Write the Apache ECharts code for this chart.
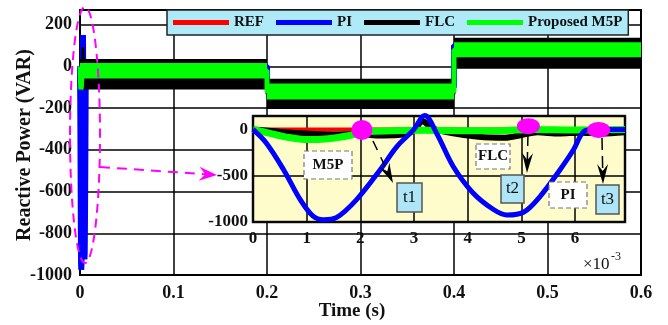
<!DOCTYPE html>
<html><head><meta charset="utf-8">
<script src="https://cdn.jsdelivr.net/npm/echarts@6/dist/echarts.min.js"></script>
<style>html,body{margin:0;padding:0;background:#fff}#c{width:668px;height:325px}</style>
</head><body><div id="c"></div>
<script>
// ---------- data ----------
const seriesNames = ['REF', 'PI', 'FLC', 'Proposed M5P'];
// main plot: step times (s) and levels (VAR)
const stepTimes = [0, 0.2, 0.4, 0.6];
const refLevels = [0, -100, 100];
// oscillation envelopes of the steady-state bands per segment
const flcLow  = [-111, -205, -11];
const flcHigh = [35, -59, 137];
const m5pLow  = [-58, -159, 44];
const m5pHigh = [16, -82, 116];
// inset: first ms of the transient (x in ms, y in VAR)
const refInset = [[0, 0], [6.93, 0]];
const piInset = [[0,0],[0.25,-149],[0.57,-435],[0.88,-758],[1.12,-937],[1.31,-975],[1.56,-950],[1.93,-758],[2.37,-435],[2.68,-185],[2.99,-5],[3.2,150],[3.42,-41],[3.73,-400],[4.1,-686],[4.48,-865],[4.73,-925],[5.04,-895],[5.35,-722],[5.72,-435],[5.97,-220],[6.16,-23],[6.34,0],[6.93,0]];
const flcInset = [[0,0],[0.5,-25],[1.0,-45],[1.5,-55],[2.0,-50],[2.3,-65],[2.7,-60],[3.0,-10],[3.15,90],[3.35,10],[3.7,-40],[4.2,-80],[4.7,-90],[5.0,-60],[5.3,-30],[5.7,-45],[6.1,-35],[6.5,-45],[6.93,-30]];
const m5pInset = [[0,0],[0.3,-40],[0.6,-80],[1.0,-110],[1.4,-100],[1.8,-65],[2.1,-25],[2.6,-15],[3.2,-10],[4.0,-15],[4.6,-15],[5.2,0],[6.0,-5],[6.93,0]];
const highlightPoints = [[2.03, -5], [5.13, 35], [6.44, -5]];

// ---------- build ----------
const FONT = '"Liberation Serif", "Times New Roman", serif';
const C = {REF:'#ff0000', PI:'#0000ff', FLC:'#000000', M5P:'#00ff00'};
function steps(levels){ const o=[]; for(let i=0;i<levels.length;i++){ o.push([stepTimes[i],levels[i]],[stepTimes[i+1],levels[i]]); } return o; }
function bands(lo,hi){ return lo.map((v,i)=>[{coord:[stepTimes[i],v]},{coord:[stepTimes[i+1],hi[i]]}]); }
const toSec = a => a.map(p=>[p[0]/1000,p[1]]);
const mid = (lo,hi)=>lo.map((v,i)=>(v+hi[i])/2);
const refMain = steps(refLevels);
const piMain  = toSec(piInset).concat(steps(refLevels).slice(1));
const flcMain = toSec(flcInset).concat(steps(mid(flcLow,flcHigh)).slice(1));
const m5pMain = toSec(m5pInset).concat(steps(mid(m5pLow,m5pHigh)).slice(1));

function arrow(x1,y1,x2,y2,color,len,wid,dash,lw){
  const a=Math.atan2(y2-y1,x2-x1), ux=Math.cos(a), uy=Math.sin(a), px=-uy, py=ux;
  const bx=x2-ux*len, by=y2-uy*len, nx=x2-ux*len*0.65, ny=y2-uy*len*0.65;
  return [
    {type:'line', z:30, shape:{x1:x1,y1:y1,x2:nx,y2:ny}, style:{stroke:color,lineWidth:lw,lineDash:dash}},
    {type:'polygon', z:30, shape:{points:[[x2,y2],[bx+px*wid/2,by+py*wid/2],[nx,ny],[bx-px*wid/2,by-py*wid/2]]}, style:{fill:color}}
  ];
}
function box(x,y,w,h,text,fill,dashed,font){
  return [
    {type:'rect', z:30, shape:{x:x,y:y,width:w,height:h}, style:{fill:fill, stroke: dashed?'#777':'#555', lineWidth: dashed?1.2:1.5, lineDash: dashed?[5,3]:null}},
    {type:'text', z:31, x:x+w/2, y:y+h/2, style:{text:text, font:font, fill:'#111', align:'center', verticalAlign:'middle'}}
  ];
}

const graphics = [].concat(
  [{type:'ellipse', z:30, shape:{cx:85, cy:135, rx:15, ry:128}, style:{fill:'none', stroke:'#ff00ff', lineWidth:2, lineDash:[9,6]}}],
  arrow(100,167,217,175,'#ff00ff',18,14,[10,7],2),
  arrow(373,141,393,183,'#000',20,11,[10,8],1.5),
  arrow(528,134,527,173,'#000',20,11,[12,6],1.5),
  arrow(602,138,603,184,'#000',20,11,[12,6],1.5),
  box(304,151,48,28,'M5P','#fff',true,'bold 15px '+FONT),
  box(476,144,34,25,'FLC','#fff',true,'bold 15px '+FONT),
  box(549,182,38,26,'PI','#fff',true,'bold 15px '+FONT),
  box(397,183,25,29,'t1','#aee6f7',false,'17px '+FONT),
  box(501,175,23,28,'t2','#aee6f7',false,'17px '+FONT),
  box(596,185,23,29,'t3','#aee6f7',false,'17px '+FONT),
  [
    {type:'text', z:31, x:583, y:265, style:{text:'\u00d710', font:'17px '+FONT, fill:'#111', align:'left', verticalAlign:'middle'}},
    {type:'text', z:31, x:611, y:257, style:{text:'-3', font:'12px '+FONT, fill:'#111', align:'left', verticalAlign:'middle'}},
    {type:'text', z:31, x:352, y:311, style:{text:'Time (s)', font:'bold 19px '+FONT, fill:'#111', align:'center', verticalAlign:'middle'}},
    {type:'text', z:31, x:25, y:145, rotation:Math.PI/2, style:{text:'Reactive Power (VAR)', font:'bold 20px '+FONT, fill:'#111', align:'center', verticalAlign:'middle'}}
  ]
);

const plain = v => String(v);
const lbl = (size, margin, extra) => Object.assign({color:'#111', fontFamily:FONT, fontWeight:'bold', fontSize:size, margin:margin}, extra||{});
const split = {show:true, lineStyle:{color:'#000', width:1.5}};

const option = {
  animation:false,
  backgroundColor:'#fff',
  legend:{
    data:seriesNames, left:167, top:10, icon:'rect', itemWidth:56, itemHeight:5, itemGap:12,
    padding:[5,6,5,6], backgroundColor:'#aeeaf8', borderColor:'#222', borderWidth:1.5,
    textStyle:{color:'#111', fontFamily:FONT, fontWeight:'bold', fontSize:15}, z:40
  },
  grid:[
    {left:80, right:27, top:10, bottom:50, show:true, backgroundColor:'#fff', borderColor:'#000', borderWidth:2, z:0},
    {left:253, right:43, top:116, bottom:103, show:true, backgroundColor:'#fffccc', borderColor:'#222', borderWidth:2.5, z:8}
  ],
  xAxis:[
    {type:'value', gridIndex:0, min:0, max:0.6, interval:0.1, axisLine:{show:false}, axisTick:{show:false}, splitLine:split,
     axisLabel:lbl(18,9,{formatter:v=>v===0?'0':v.toFixed(1)}), z:0},
    {type:'value', gridIndex:1, min:0, max:6.93, interval:1, axisLine:{show:false}, axisTick:{show:false}, splitLine:split,
     axisLabel:lbl(17,8,{showMaxLabel:false, formatter:plain}), z:9}
  ],
  yAxis:[
    {type:'value', gridIndex:0, min:-1000, max:270, interval:200, axisLine:{show:false}, axisTick:{show:false}, splitLine:split,
     axisLabel:lbl(18,8,{showMaxLabel:false, formatter:plain}), z:0},
    {type:'value', gridIndex:1, min:-1000, max:145, interval:500, axisLine:{show:false}, axisTick:{show:false}, splitLine:split,
     axisLabel:lbl(17,5,{showMaxLabel:false, formatter:plain}), z:9}
  ],
  series:[
    {name:'REF', type:'line', xAxisIndex:0, yAxisIndex:0, data:refMain, showSymbol:false, lineStyle:{color:C.REF,width:3}, itemStyle:{color:C.REF}, z:2},
    {name:'PI', type:'line', xAxisIndex:0, yAxisIndex:0, data:piMain, showSymbol:false, clip:false, lineStyle:{color:C.PI,width:6}, itemStyle:{color:C.PI}, z:3},
    {name:'FLC', type:'line', xAxisIndex:0, yAxisIndex:0, data:flcMain, showSymbol:false, lineStyle:{color:C.FLC,width:3}, itemStyle:{color:C.FLC}, z:4,
     markArea:{silent:true, z:4, itemStyle:{color:C.FLC, opacity:1}, data:bands(flcLow,flcHigh)}},
    {name:'Proposed M5P', type:'line', xAxisIndex:0, yAxisIndex:0, data:m5pMain, showSymbol:false, clip:false, lineStyle:{color:C.M5P,width:5}, itemStyle:{color:C.M5P}, z:5,
     markArea:{silent:true, z:5, itemStyle:{color:C.M5P, opacity:1}, data:bands(m5pLow,m5pHigh)}},

    {name:'REF', type:'line', xAxisIndex:1, yAxisIndex:1, data:refInset, showSymbol:false, lineStyle:{color:C.REF,width:4}, itemStyle:{color:C.REF}, z:10,
     markPoint:{silent:true, z:20, symbol:'circle', itemStyle:{color:'#ff00ff'}, label:{show:false},
       data:highlightPoints.map((c,i)=>({coord:c, symbolSize: i===0?[21,20]:[23,16]}))}},
    {name:'FLC', type:'line', xAxisIndex:1, yAxisIndex:1, data:flcInset, showSymbol:false, smooth:0.3, lineStyle:{color:C.FLC,width:6}, itemStyle:{color:C.FLC}, z:11},
    {name:'Proposed M5P', type:'line', xAxisIndex:1, yAxisIndex:1, data:m5pInset, showSymbol:false, smooth:0.3, lineStyle:{color:C.M5P,width:7}, itemStyle:{color:C.M5P}, z:12},
    {name:'PI', type:'line', xAxisIndex:1, yAxisIndex:1, data:piInset, showSymbol:false, smooth:0.35, clip:false, lineStyle:{color:C.PI,width:5}, itemStyle:{color:C.PI}, z:13}
  ],
  graphic:{elements:graphics}
};
const chart = echarts.init(document.getElementById('c'), null, {renderer:'canvas'});
chart.setOption(option);
</script>
</body></html>
